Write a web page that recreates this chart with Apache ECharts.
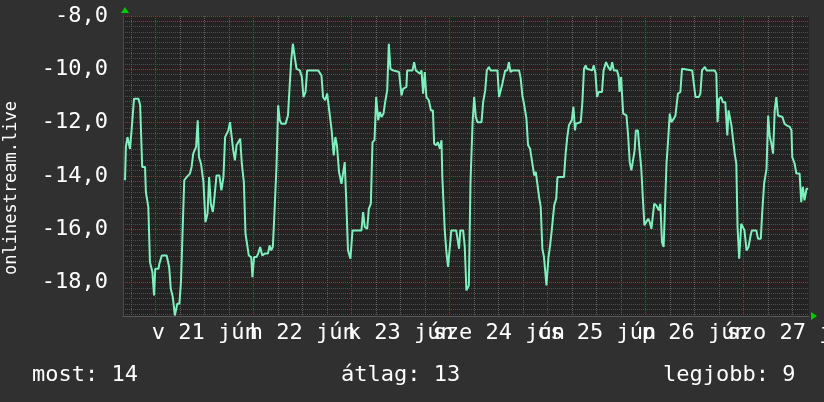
<!DOCTYPE html>
<html>
<head>
<meta charset="utf-8">
<script src="https://cdn.jsdelivr.net/npm/echarts@6/dist/echarts.min.js"></script>
<style>
  html, body { margin: 0; padding: 0; background: #303030; }
  #chart { width: 824px; height: 402px; }
</style>
</head>
<body>
<div id="chart"></div>
<script>
// hours counted from 2020-06-20 00:00
const hours = [
    16.5, 16.7, 17.1, 17.7, 18.1, 18.4, 18.7, 19.8, 20.2, 20.4, 20.7, 21.4, 21.6, 22.2, 22.6, 23.2, 23.6, 23.9,
    24.7, 24.9, 25.5, 26.7, 27.3, 27.7, 28.2, 28.7, 29.3, 29.8, 30.2, 30.6, 31.0, 31.6, 32.4, 32.8, 33.2, 33.9,
    34.3, 34.6, 35.1, 35.7, 36.2, 36.7, 37.1, 37.5, 38.0, 38.4, 38.9, 39.6, 40.1, 40.6, 41.0, 41.8, 42.2, 43.0,
    43.4, 43.8, 44.2, 44.7, 45.1, 45.6, 46.0, 46.4, 46.8, 47.4, 47.7, 48.1, 48.7, 49.1, 49.6, 50.1, 50.7, 51.5,
    51.9, 52.3, 52.7, 53.1, 53.6, 54.0, 54.4, 54.8, 55.8, 56.4, 56.8, 57.2, 57.6, 58.0, 58.5, 59.3, 59.8, 60.2,
    60.7, 61.1, 63.8, 64.6, 65.0, 65.5, 66.0, 66.5, 67.1, 67.6, 68.0, 68.4, 68.9, 69.5, 69.9, 70.3, 70.7, 71.1,
    71.7, 72.2, 72.6, 74.4, 74.8, 75.2, 75.8, 76.2, 76.7, 77.1, 77.6, 78.0, 78.5, 78.9, 79.3, 79.8, 80.2, 80.7,
    81.1, 81.5, 82.1, 83.6, 84.2, 84.6, 85.4, 85.6, 86.9, 87.3, 87.7, 88.2, 88.7, 89.1, 89.5, 89.9, 90.3, 90.9,
    91.4, 91.9, 92.2, 92.7, 93.1, 93.6, 94.0, 94.2, 94.8, 95.2, 95.6, 96.0, 96.4, 97.6, 98.3, 98.6, 99.3, 99.7,
    100.1, 100.5, 100.7, 101.1, 101.6, 102.0, 102.4, 102.8, 103.8, 104.2, 104.7, 105.1, 105.6, 106.0, 107.7, 108.1,
    108.5, 108.9, 109.3, 109.6, 110.1, 110.5, 110.9, 111.4, 113.0, 113.4, 113.8, 114.2, 114.8, 115.2, 115.7, 116.2,
    116.7, 117.1, 117.5, 117.9, 118.3, 118.7, 119.1, 119.4, 119.7, 119.9, 120.2, 120.6, 121.0, 121.6, 122.1, 122.4,
    122.8, 124.0, 124.4, 124.8, 125.2, 125.9, 126.3, 126.7, 126.9, 127.3, 128.1, 128.5, 128.9, 129.3, 129.6, 130.9,
    131.3, 131.7, 132.1, 132.5, 133.3, 133.7, 134.3, 134.8, 135.4, 135.8, 136.2, 137.0, 137.4, 137.6, 138.0, 138.2,
    138.5, 138.9, 139.3, 139.7, 140.1, 140.5, 140.9, 141.3, 141.6, 142.1, 142.5, 142.9, 143.3, 143.7, 144.1, 144.6,
    145.0, 145.4, 145.8, 146.1, 146.6, 147.2, 147.6, 148.0, 148.4, 148.8, 149.1, 149.5, 149.9, 150.3, 150.9, 151.3,
    151.9, 152.5, 152.9, 153.3, 155.4, 155.8, 156.2, 157.0, 157.4, 157.8, 158.0, 158.5, 158.9, 160.9, 161.3, 161.6,
    162.0, 162.5, 162.9, 163.5, 164.0, 164.3, 164.7, 165.0, 165.4, 165.8, 166.2, 166.5, 166.9, 167.3, 167.4, 167.8,
    168.2, 168.7, 169.2, 169.7, 170.0, 171.1, 171.5, 172.2, 172.5, 173.0, 173.6, 174.0, 174.4, 174.8, 175.2, 175.6,
    176.0, 176.4, 176.8, 177.5, 178.0, 178.5, 178.9, 179.3, 179.7, 179.9, 180.5, 180.9, 181.7, 182.1, 182.5, 182.9,
    183.4, 183.8
];
const values = [
    -14.16, -12.91, -12.54, -12.98, -12.29, -12.23, -11.10, -11.10, -11.35, -11.41, -13.66, -13.66, -14.60, -15.16, -17.23, -17.60, -18.48, -17.48,
    -17.48, -17.29, -16.98, -16.98, -17.41, -18.23, -18.54, -19.23, -18.79, -18.79, -17.98, -16.04, -14.16, -14.04, -13.91, -13.66, -13.16, -12.91,
    -11.91, -13.29, -13.54, -14.23, -15.73, -15.41, -14.04, -15.04, -15.35, -14.79, -13.98, -13.98, -14.54, -14.04, -12.54, -12.29, -11.98, -13.04,
    -13.41, -12.85, -12.79, -12.60, -13.54, -14.23, -16.16, -16.23, -16.98, -17.04, -17.79, -17.04, -17.04, -16.91, -16.66, -16.98, -16.91, -16.91,
    -16.60, -16.79, -16.66, -15.35, -13.60, -11.35, -11.91, -12.04, -12.04, -11.73, -10.66, -9.66, -9.04, -9.48, -9.98, -10.04, -10.29, -11.04,
    -10.85, -10.04, -10.04, -10.23, -11.04, -11.16, -10.91, -11.54, -12.29, -13.23, -12.54, -12.85, -13.85, -14.29, -14.29, -13.48, -15.04, -16.79,
    -17.10, -16.04, -16.04, -16.04, -15.35, -15.91, -15.98, -15.23, -15.04, -12.73, -12.66, -11.04, -11.91, -11.60, -11.79, -11.66, -11.23, -10.79,
    -9.04, -9.98, -10.04, -10.10, -10.98, -10.73, -10.66, -10.04, -10.04, -9.73, -10.04, -10.10, -10.16, -10.04, -10.91, -10.10, -11.04, -11.16,
    -11.54, -11.54, -12.79, -12.85, -12.73, -12.98, -12.66, -14.04, -16.04, -16.85, -17.41, -16.73, -16.04, -16.04, -16.73, -16.04, -16.04, -16.66,
    -18.29, -18.29, -18.10, -14.23, -12.04, -11.04, -11.79, -11.98, -11.98, -11.23, -10.79, -10.04, -9.91, -10.04, -10.04, -11.04,
    -10.98, -10.54, -10.48, -10.04, -10.04, -9.73, -10.10, -10.04, -10.04, -10.35, -10.98, -11.29, -11.85, -12.85, -12.98, -13.48,
    -13.98, -13.85, -13.85, -14.79, -15.16, -16.73, -17.04, -17.10, -18.10, -18.10, -17.04, -16.60, -16.04, -15.10, -14.85, -14.04,
    -14.04, -14.04, -13.16, -12.54, -12.10, -11.91, -11.41, -12.29, -12.04, -11.98, -11.98, -11.23, -9.98, -9.85, -9.98, -10.04,
    -9.85, -10.16, -11.04, -10.85, -10.85, -10.04, -9.73, -9.91, -10.04, -9.73, -10.04, -10.04, -10.29, -10.85, -10.29, -10.91,
    -11.66, -11.73, -11.73, -12.48, -13.48, -13.79, -13.79, -13.04, -12.29, -12.29, -13.04, -13.66, -14.79, -15.85, -15.85, -15.60,
    -15.73, -15.98, -16.04, -15.04, -15.10, -15.29, -15.04, -16.48, -16.66, -16.66, -13.54, -12.66, -11.66, -11.98, -11.85, -11.73,
    -10.91, -10.85, -9.98, -9.91, -10.04, -10.10, -11.04, -11.04, -10.91, -10.04, -10.04, -9.91, -10.04, -10.04, -10.16, -11.98,
    -11.10, -11.04, -11.23, -11.23, -12.48, -11.54, -11.54, -12.10, -12.16, -13.16, -13.54, -15.91, -17.10, -17.10, -15.79, -15.79,
    -16.04, -16.79, -16.66, -16.23, -16.04, -16.04, -16.35, -16.35, -15.48, -14.29, -13.73, -11.73, -12.54, -12.79, -13.16, -11.54,
    -11.04, -11.73, -11.79, -11.79, -12.04, -12.10, -12.04, -12.16, -12.29, -13.29, -13.54, -13.91, -13.91, -14.98, -14.41, -14.91,
    -14.48, -14.48
];

const dayLabels = ['v 21 jún', 'h 22 jún', 'k 23 jún', 'sze 24 jún', 'cs 25 jún', 'p 26 jún', 'szo 27 jún'];
const firstNoon = 36;
const statNames = ['most', 'átlag', 'legjobb'];
const statValues = [14, 13, 9];

const font = 'DejaVu Sans Mono';
const red = '#8e3a3a';
const grey = '#5e5e5e';

// plot box
const L = 123, R = 15, T = 16, B = 86;
const xMin = 16, xMax = 184, yMin = -19.25, yMax = -8;
const pxPerHour = (824 - L - R) / (xMax - xMin);
const pxPerUnit = (402 - T - B) / (yMax - yMin);

// vertical grid lines: hour marks, every 6h and every midnight
function hourMarks(from, to, step) {
    const out = [];
    for (let h = from; h <= to; h += step) out.push(String(h));
    return out;
}
const sixHourMarks = hourMarks(18, 180, 6);
const midnightMarks = hourMarks(24, 168, 24);

// each set of grid lines gets its own grid spanning exactly its first..last line
function xGrid(from, to) {
    return {left: L + (from - xMin) * pxPerHour, right: R + (xMax - to) * pxPerHour,
            top: T, bottom: B, outerBoundsMode: 'none'};
}
function yGrid(from) {
    return {left: L, right: R, top: T, bottom: B + (from - yMin) * pxPerUnit, outerBoundsMode: 'none'};
}
const hidden = {show: false};
function hiddenX(i) { return {gridIndex: i, type: 'value', min: xMin, max: xMax, show: false}; }
function hiddenY(i) { return {gridIndex: i, type: 'value', min: yMin, max: yMax, show: false}; }

function markAxis(gridIndex, marks, color) {
    return {
        gridIndex, type: 'category', data: marks, boundaryGap: false,
        axisLine: hidden,
        axisTick: {show: false, interval: 0},
        axisLabel: {show: false, interval: 0},
        splitLine: {show: true, interval: 0, lineStyle: {color, type: 'dotted', width: 1}}
    };
}
function valueLineAxis(gridIndex, min, max, interval, color, labels) {
    return {
        gridIndex, type: 'value', min, max, interval,
        axisLine: hidden, axisTick: hidden,
        axisLabel: labels || hidden,
        splitLine: {show: true, lineStyle: {color, type: 'dotted', width: 1}}
    };
}

const chart = echarts.init(document.getElementById('chart'));
chart.setOption({
    animation: false,
    backgroundColor: '#303030',
    grid: [
        {left: L, right: R, top: T, bottom: B, outerBoundsMode: 'none',
         show: true, backgroundColor: '#232323', borderWidth: 0},
        xGrid(18, 180),  // 1: grey every 6h
        yGrid(-19.2),    // 2: grey every 0.2
        xGrid(24, 168),  // 3: red at midnight
        yGrid(-18),      // 4: red every 2 + labels
        xGrid(12, xMax)  // 5: day labels at noon
    ],
    xAxis: [
        {gridIndex: 0, type: 'value', min: xMin, max: xMax,
         axisLine: {show: true, lineStyle: {color: '#5a5a5a'}},
         axisTick: hidden, axisLabel: hidden, splitLine: hidden},
        markAxis(1, sixHourMarks, grey),
        hiddenX(2),
        markAxis(3, midnightMarks, red),
        hiddenX(4),
        {gridIndex: 5, type: 'value', min: 12, max: xMax, interval: 24,
         axisLine: hidden, axisTick: hidden, splitLine: hidden,
         axisLabel: {
             show: true, interval: 0, color: '#ffffff', fontFamily: font, fontSize: 22, margin: 6,
             hideOverlap: false, showMinLabel: false, showMaxLabel: false,
             formatter: (v) => v < firstNoon ? '' : (dayLabels[Math.round((v - firstNoon) / 24)] || '')
         }}
    ],
    yAxis: [
        {gridIndex: 0, type: 'value', min: yMin, max: yMax,
         axisLine: {show: true, lineStyle: {color: '#4a4a4a'}},
         axisTick: hidden, axisLabel: hidden, splitLine: hidden},
        {gridIndex: 1, type: 'value', min: yMin, max: yMax, show: false, splitLine: hidden},
        valueLineAxis(2, -19.2, yMax, 0.2, '#4f4f4f'),
        {gridIndex: 3, type: 'value', min: yMin, max: yMax, show: false, splitLine: hidden},
        valueLineAxis(4, -18, yMax, 2, red, {
            show: true, color: '#ffffff', fontFamily: font, fontSize: 22, margin: 15,
            formatter: (v) => v.toFixed(1).replace('.', ',')
        }),
        hiddenY(5)
    ],
    series: [{
        type: 'line',
        xAxisIndex: 0, yAxisIndex: 0,
        data: hours.map((h, i) => [h, values[i]]),
        showSymbol: false,
        lineStyle: {color: '#7ef0bd', width: 2},
        itemStyle: {color: '#7ef0bd'}
    }],
    graphic: [
        {
            type: 'text', x: 12, y: 188, rotation: Math.PI / 2,
            style: {text: 'onlinestream.live', fill: '#ffffff', font: '17px "DejaVu Sans Mono"',
                    align: 'center', verticalAlign: 'middle'}
        },
        {type: 'polygon', shape: {points: [[121, 13], [129, 13], [125, 7]]}, style: {fill: '#00cc00'}},
        {type: 'polygon', shape: {points: [[811, 312], [811, 320], [817, 316]]}, style: {fill: '#00cc00'}},
        ...statNames.map((n, i) => ({
            type: 'text', x: [32, 341, 663][i], y: 375,
            style: {text: n + ': ' + statValues[i], fill: '#ffffff', font: '22px "DejaVu Sans Mono"',
                    verticalAlign: 'middle'}
        }))
    ]
});
</script>
</body>
</html>
